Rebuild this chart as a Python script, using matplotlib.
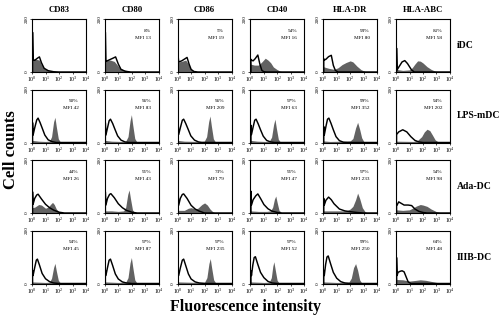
import matplotlib
matplotlib.use("Agg")
import matplotlib.pyplot as plt
import numpy as np

plt.rcParams["font.family"] = ["Liberation Serif", "DejaVu Serif"]
plt.rcParams["mathtext.fontset"] = "custom"
plt.rcParams["mathtext.rm"] = "Liberation Serif"
plt.rcParams["mathtext.it"] = "Liberation Serif:italic"

MARKERS = ["CD83", "CD80", "CD86", "CD40", "HLA-DR", "HLA-ABC"]
GROUPS = ["iDC", "LPS-mDC", "Ada-DC", "IIIB-DC"]
X_TICKS = [0, 1, 2, 3, 4]          # decades
Y_TICKS = [0, 200]

# each curve: (log10 fluorescence, cell count) points
# control (isotype) curves start with the first-channel pile-up spike
IDC_CTRL = [
    [(0.04, 0), (0.04, 150), (0.08, 45), (0.2, 44), (0.4, 52), (0.55, 57), (0.7, 35), (0.9, 14), (1.2, 5), (1.6, 1), (2.0, 0), (4, 0)],
    [(0.04, 0), (0.04, 150), (0.08, 40), (0.3, 45), (0.6, 52), (0.8, 57), (1.0, 30), (1.2, 10), (1.5, 3), (1.9, 0), (4, 0)],
    [(0.04, 0), (0.04, 60), (0.08, 38), (0.3, 42), (0.55, 50), (0.7, 55), (0.85, 30), (1.0, 10), (1.2, 2), (1.5, 0), (4, 0)],
    [(0.04, 0), (0.04, 48), (0.08, 45), (0.2, 42), (0.35, 50), (0.55, 64), (0.7, 30), (0.85, 6), (1.0, 1), (1.2, 0), (4, 0)],
    [(0.04, 0), (0.04, 50), (0.08, 45), (0.2, 48), (0.4, 58), (0.6, 63), (0.75, 25), (0.9, 6), (1.1, 0), (4, 0)],
    [(0.04, 0), (0.04, 90), (0.08, 8), (0.2, 18), (0.45, 38), (0.65, 43), (0.85, 32), (1.0, 20), (1.15, 8), (1.35, 0), (4, 0)],
]
IDC_STAIN = [
    [(0, 85), (0.06, 50), (0.3, 48), (0.55, 45), (0.7, 28), (0.9, 14), (1.2, 7), (1.5, 3), (2.0, 0), (4, 0)],
    [(0, 85), (0.06, 45), (0.4, 45), (0.7, 40), (0.9, 28), (1.1, 15), (1.4, 8), (1.8, 3), (2.2, 0), (4, 0)],
    [(0, 60), (0.06, 38), (0.3, 40), (0.6, 45), (0.8, 30), (1.0, 10), (1.3, 3), (1.6, 0), (4, 0)],
    [(0, 30), (0.3, 26), (0.6, 26), (0.85, 38), (1.1, 52), (1.3, 45), (1.5, 35), (1.7, 19), (1.95, 10), (2.2, 3), (2.5, 0), (4, 0)],
    [(0, 20), (0.4, 14), (0.8, 10), (1.1, 16), (1.4, 28), (1.7, 36), (2.0, 42), (2.2, 38), (2.5, 22), (2.8, 9), (3.1, 2), (3.4, 0), (4, 0)],
    [(0, 10), (0.5, 6), (1.0, 8), (1.2, 16), (1.4, 30), (1.6, 42), (1.8, 41), (2.0, 34), (2.3, 20), (2.6, 10), (2.9, 3), (3.3, 0), (4, 0)],
]
IDC_PCT = [None, "8%", "5%", "54%", "93%", "81%"]
IDC_MFI = [None, 13, 19, 16, 80, 58]

LPS_CTRL = [
    [(0.04, 0), (0.04, 75), (0.08, 28), (0.2, 55), (0.35, 85), (0.45, 92), (0.6, 75), (0.75, 55), (0.95, 28), (1.2, 10), (1.5, 3), (1.8, 0), (4, 0)],
    [(0.04, 0), (0.04, 75), (0.08, 28), (0.2, 55), (0.32, 82), (0.42, 88), (0.58, 72), (0.75, 50), (0.95, 25), (1.2, 9), (1.5, 2), (1.8, 0), (4, 0)],
    [(0.04, 0), (0.04, 80), (0.08, 30), (0.2, 55), (0.35, 84), (0.45, 88), (0.6, 72), (0.78, 50), (0.98, 25), (1.25, 9), (1.55, 2), (1.8, 0), (4, 0)],
    [(0.04, 0), (0.04, 65), (0.08, 30), (0.2, 58), (0.32, 84), (0.42, 88), (0.58, 70), (0.75, 48), (0.95, 24), (1.2, 8), (1.5, 2), (1.8, 0), (4, 0)],
    [(0.04, 0), (0.04, 60), (0.08, 28), (0.2, 60), (0.32, 88), (0.42, 92), (0.58, 72), (0.75, 48), (0.95, 22), (1.2, 7), (1.5, 1), (1.8, 0), (4, 0)],
    [(0.04, 0), (0.04, 30), (0.2, 40), (0.5, 48), (0.8, 40), (1.1, 22), (1.4, 8), (1.7, 2), (2.0, 0), (4, 0)],
]
LPS_STAIN = [
    [(0, 8), (0.5, 5), (1.0, 4), (1.3, 5), (1.45, 22), (1.6, 78), (1.7, 95), (1.8, 60), (1.95, 14), (2.1, 2), (2.3, 0), (4, 0)],
    [(0, 8), (0.5, 5), (1.2, 4), (1.55, 5), (1.72, 22), (1.87, 82), (1.97, 105), (2.07, 66), (2.22, 15), (2.37, 2), (2.6, 0), (4, 0)],
    [(0, 8), (0.5, 5), (1.5, 4), (1.98, 5), (2.15, 22), (2.3, 78), (2.4, 100), (2.5, 63), (2.65, 14), (2.8, 2), (3.0, 0), (4, 0)],
    [(0, 8), (0.5, 5), (1.1, 4), (1.4, 5), (1.57, 20), (1.72, 68), (1.82, 88), (1.92, 55), (2.07, 12), (2.22, 2), (2.4, 0), (4, 0)],
    [(0, 6), (0.5, 4), (1.5, 5), (2.0, 6), (2.2, 15), (2.4, 55), (2.55, 76), (2.7, 50), (2.85, 18), (3.0, 4), (3.2, 0), (4, 0)],
    [(0, 5), (1.3, 4), (1.6, 8), (1.9, 22), (2.1, 40), (2.3, 50), (2.5, 45), (2.7, 28), (2.9, 10), (3.1, 3), (3.3, 0), (4, 0)],
]
LPS_PCT = ["90%", "96%", "96%", "97%", "99%", "94%"]
LPS_MFI = [42, 83, 209, 63, 352, 202]

ADA_CTRL = [
    [(0.04, 0), (0.04, 80), (0.08, 33), (0.2, 55), (0.35, 68), (0.45, 71), (0.7, 53), (1.0, 33), (1.3, 20), (1.6, 11), (2.0, 3), (2.4, 0), (4, 0)],
    [(0.04, 0), (0.04, 80), (0.08, 30), (0.2, 55), (0.35, 70), (0.45, 73), (0.7, 58), (1.0, 35), (1.3, 20), (1.6, 10), (2.0, 3), (2.4, 0), (4, 0)],
    [(0.04, 0), (0.04, 82), (0.08, 29), (0.2, 55), (0.35, 70), (0.45, 72), (0.7, 55), (1.0, 29), (1.3, 15), (1.6, 7), (2.0, 0), (4, 0)],
    [(0.04, 0), (0.04, 82), (0.08, 30), (0.2, 50), (0.4, 65), (0.55, 72), (0.75, 55), (1.0, 32), (1.3, 16), (1.6, 7), (2.0, 2), (2.3, 0), (4, 0)],
    [(0.04, 0), (0.04, 55), (0.08, 30), (0.2, 48), (0.4, 60), (0.6, 50), (0.8, 35), (1.2, 15), (1.6, 8), (2.0, 5), (2.5, 2), (3.0, 0), (4, 0)],
    [(0.04, 0), (0.04, 30), (0.08, 30), (0.2, 42), (0.4, 36), (0.6, 30), (0.9, 30), (1.16, 28), (1.4, 15), (1.7, 6), (2.0, 2), (2.3, 0), (4, 0)],
]
ADA_STAIN = [
    [(0, 20), (0.2, 22), (0.5, 32), (0.7, 30), (1.0, 18), (1.2, 22), (1.4, 34), (1.52, 40), (1.65, 32), (1.8, 15), (2.0, 5), (2.2, 0), (4, 0)],
    [(0, 8), (0.5, 8), (1.0, 6), (1.4, 8), (1.55, 22), (1.7, 70), (1.8, 87), (1.9, 55), (2.05, 12), (2.2, 2), (2.4, 0), (4, 0)],
    [(0, 10), (0.5, 10), (0.8, 18), (1.0, 20), (1.3, 15), (1.5, 18), (1.8, 32), (2.0, 38), (2.2, 30), (2.4, 15), (2.6, 5), (2.8, 0), (4, 0)],
    [(0, 8), (0.6, 6), (1.2, 6), (1.5, 8), (1.65, 22), (1.78, 52), (1.88, 64), (1.98, 40), (2.12, 10), (2.3, 2), (2.5, 0), (4, 0)],
    [(0, 8), (1.5, 8), (1.8, 10), (2.0, 15), (2.2, 25), (2.4, 50), (2.55, 75), (2.7, 55), (2.9, 20), (3.1, 5), (3.3, 0), (4, 0)],
    [(0, 12), (0.5, 10), (1.0, 12), (1.3, 20), (1.5, 26), (1.8, 32), (2.0, 30), (2.3, 25), (2.6, 15), (3.0, 5), (3.4, 0), (4, 0)],
]
ADA_PCT = ["44%", "91%", "73%", "91%", "97%", "54%"]
ADA_MFI = [26, 43, 79, 47, 233, 98]

IIIB_CTRL = [
    [(0.04, 0), (0.04, 50), (0.08, 30), (0.2, 60), (0.32, 88), (0.4, 92), (0.55, 70), (0.75, 38), (1.0, 18), (1.3, 7), (1.6, 2), (2.0, 0), (4, 0)],
    [(0.04, 0), (0.04, 50), (0.08, 30), (0.2, 60), (0.32, 88), (0.42, 92), (0.58, 68), (0.78, 36), (1.0, 17), (1.3, 6), (1.6, 2), (2.0, 0), (4, 0)],
    [(0.04, 0), (0.04, 50), (0.08, 30), (0.2, 58), (0.35, 88), (0.45, 92), (0.6, 68), (0.8, 36), (1.0, 17), (1.3, 6), (1.6, 2), (2.0, 0), (4, 0)],
    [(0.04, 0), (0.04, 48), (0.08, 30), (0.18, 70), (0.28, 98), (0.37, 101), (0.55, 72), (0.75, 42), (1.0, 22), (1.3, 8), (1.6, 2), (2.0, 0), (4, 0)],
    [(0.04, 0), (0.04, 50), (0.08, 30), (0.18, 72), (0.28, 100), (0.37, 104), (0.55, 74), (0.75, 42), (1.0, 20), (1.3, 7), (1.6, 2), (2.0, 0), (4, 0)],
    [(0.04, 0), (0.04, 98), (0.08, 30), (0.15, 42), (0.3, 46), (0.45, 48), (0.6, 44), (0.75, 25), (0.9, 6), (1.1, 0), (4, 0)],
]
IIIB_STAIN = [
    [(0, 6), (1.0, 4), (1.3, 5), (1.45, 20), (1.6, 60), (1.7, 76), (1.8, 48), (1.95, 12), (2.1, 2), (2.3, 0), (4, 0)],
    [(0, 6), (1.0, 4), (1.55, 5), (1.72, 22), (1.87, 78), (1.97, 98), (2.07, 62), (2.22, 14), (2.37, 2), (2.6, 0), (4, 0)],
    [(0, 6), (1.5, 4), (2.0, 5), (2.17, 22), (2.32, 75), (2.42, 94), (2.52, 60), (2.67, 14), (2.82, 2), (3.0, 0), (4, 0)],
    [(0, 6), (1.0, 4), (1.4, 5), (1.55, 22), (1.66, 65), (1.74, 82), (1.84, 52), (1.98, 12), (2.12, 2), (2.3, 0), (4, 0)],
    [(0, 6), (1.0, 4), (1.9, 5), (2.08, 20), (2.25, 60), (2.4, 75), (2.55, 50), (2.7, 14), (2.85, 2), (3.0, 0), (4, 0)],
    [(0, 90), (0.06, 15), (0.5, 14), (1.0, 9), (1.5, 12), (1.8, 14), (2.2, 12), (2.6, 8), (3.0, 4), (3.5, 1), (4, 0)],
]
IIIB_PCT = ["94%", "97%", "97%", "97%", "99%", "64%"]
IIIB_MFI = [45, 87, 235, 52, 250, 48]

rows = [
    (IDC_CTRL, IDC_STAIN, IDC_PCT, IDC_MFI),
    (LPS_CTRL, LPS_STAIN, LPS_PCT, LPS_MFI),
    (ADA_CTRL, ADA_STAIN, ADA_PCT, ADA_MFI),
    (IIIB_CTRL, IIIB_STAIN, IIIB_PCT, IIIB_MFI),
]

W, H = 504, 318
fig = plt.figure(figsize=(W / 100, H / 100), dpi=100)

# panel grid in pixels
left0, col_step, pw = 32, 72.8, 54
top0, row_step, ph = 19, 70.5, 53

for r, (ctrl, stain, pct, mfi) in enumerate(rows):
    for c in range(len(MARKERS)):
        left = left0 + c * col_step
        top = top0 + r * row_step
        ax = fig.add_axes([left / W, 1 - (top + ph) / H, pw / W, ph / H])
        sx, sy = zip(*stain[c])
        ax.fill_between(10 ** np.array(sx), sy, 0, color="#626262", lw=0)
        cx, cy = zip(*ctrl[c])
        ax.plot(10 ** np.array(cx), cy, color="black", lw=1.05, solid_joinstyle="round")
        ax.set_xscale("log")
        ax.set_xlim(10 ** X_TICKS[0], 10 ** X_TICKS[-1])
        ax.set_ylim(Y_TICKS[0], Y_TICKS[-1])
        ax.set_xticks([10 ** t for t in X_TICKS])
        ax.set_xticklabels([f"$10^{t}$" for t in X_TICKS], fontsize=4.2)
        ax.set_yticks(Y_TICKS)
        ax.set_yticklabels([str(t) for t in Y_TICKS], fontsize=3.8,
                           rotation=90, va="center")
        ax.tick_params(axis="both", direction="out", length=1.5, width=0.5, pad=0.8)
        ax.tick_params(axis="x", which="minor", length=0.8, width=0.4)
        for s in ax.spines.values():
            s.set_linewidth(0.8)
        if pct[c] is not None:
            ax.text(0.86, 0.78, pct[c], transform=ax.transAxes, ha="right",
                    va="center", fontsize=3.8)
            ax.text(0.86, 0.65, f"MFI {mfi[c]}", transform=ax.transAxes,
                    ha="right", va="center", fontsize=3.8)
        if r == 0:
            ax.set_title(MARKERS[c], fontsize=6.3, fontweight="bold", pad=5)

    fig.text(457 / W, 1 - (top0 + r * row_step + ph / 2) / H, GROUPS[r],
             ha="left", va="center", fontsize=7, fontweight="bold")

fig.text(11 / W, 1 - 150 / H, "Cell counts", rotation=90, ha="center",
         va="center", fontsize=12, fontweight="bold")
fig.text(245 / W, 1 - 307 / H, "Fluorescence intensity", ha="center",
         va="center", fontsize=11.5, fontweight="bold")

fig.savefig("out.png", dpi=100)
